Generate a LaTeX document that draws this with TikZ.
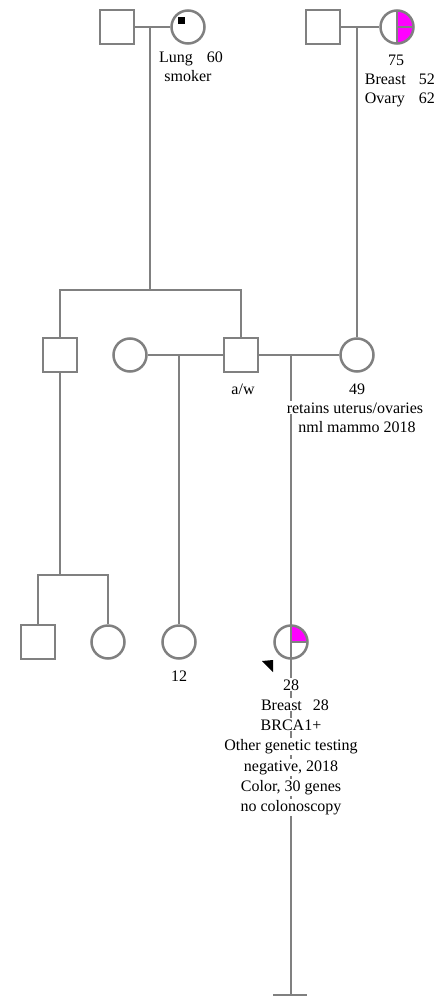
\documentclass[tikz,border=0pt]{standalone}
\usepackage{fontspec}
\setmainfont{Liberation Serif}
\definecolor{lineg}{RGB}{128,128,128}
\definecolor{affect}{RGB}{255,0,255}
\begin{document}
\begin{tikzpicture}[x=1pt,y=-1pt,line width=2.5pt,
  male/.style={draw=lineg,rectangle,minimum size=34pt,inner sep=0pt},
  female/.style={draw=lineg,circle,minimum size=33pt,inner sep=0pt},
  rel/.style={draw=lineg,line width=2.5pt},
  lbl/.style={font=\fontsize{16}{20}\selectfont,inner xsep=0.6pt,inner ysep=1.2pt,anchor=base},
  cover/.style={lbl,fill=white}]
\useasboundingbox (0,0) rectangle (440,1000);

% generation I
\node[male] (gf1) at (117,27) {};
\node[female,path picture={
    \fill[black] ([shift={(-10.5,-10)}]path picture bounding box.center)
      rectangle ([shift={(-3.5,-3)}]path picture bounding box.center);}]
  (gm1) at (188,27) {};
\node[male] (gf2) at (323,27) {};
\node[female,path picture={
    \fill[affect] (path picture bounding box.south) rectangle (path picture bounding box.north east);
    \draw[lineg] (path picture bounding box.north) -- (path picture bounding box.south);
    \draw[lineg] (path picture bounding box.center) -- (path picture bounding box.east);}]
  (gm2) at (397,27) {};

% generation II
\node[male] (u1) at (60,355) {};
\node[female] (w1) at (130,355) {};
\node[male] (fa) at (241,355) {};
\node[female] (mo) at (357,355) {};

% generation III
\node[male] (c1) at (38,642) {};
\node[female] (c2) at (108,642) {};
\node[female] (c3) at (179,642) {};
\node[female,path picture={
    \fill[affect] (path picture bounding box.center) rectangle (path picture bounding box.north east);
    \draw[lineg] (path picture bounding box.center) -- (path picture bounding box.east);
    \draw[lineg] (path picture bounding box.north) -- (path picture bounding box.south);}]
  (pb) at (291,642) {};

% couple and descent coordinates
\coordinate (d1top) at (150,27);
\coordinate (d1bot) at (150,290);
\coordinate (s1l) at (60,290);
\coordinate (s1r) at (241,290);
\coordinate (d2top) at (357,27);
\coordinate (d3top) at (179,355);
\coordinate (d4top) at (291,355);
\coordinate (d4bot) at (291,995);
\coordinate (barl) at (273,995);
\coordinate (barr) at (307,995);
\coordinate (s2m) at (60,575);
\coordinate (s2l) at (38,575);
\coordinate (s2r) at (108,575);

% relationship lines
\draw[rel] (gf1.east) -- (gm1.west);
\draw[rel] (d1top) -- (d1bot);
\draw[rel] (u1.north) -- (s1l) -- (s1r) -- (fa.north);
\draw[rel] (gf2.east) -- (gm2.west);
\draw[rel] (d2top) -- (mo.north);
\draw[rel] (w1.east) -- (fa.west);
\draw[rel] (d3top) -- (c3.north);
\draw[rel] (fa.east) -- (mo.west);
\draw[rel] (d4top) -- (d4bot);
\draw[rel] (barl) -- (barr);
\draw[rel] (u1.south) -- (s2m);
\draw[rel] (c1.north) -- (s2l) -- (s2r) -- (c2.north);

% proband arrow
\coordinate (ar1) at (262,661);
\coordinate (ar2) at (273,660);
\coordinate (ar3) at (273,672);
\fill[black] (ar1) -- (ar2) -- (ar3) -- cycle;

% labels
\node[lbl] (t1) at (191,63) {Lung\hspace{14pt}60};
\node[lbl] (t2) at (188,82) {smoker};
\node[lbl] (t3) at (396,66) {75};
\node[lbl,anchor=base west] (t4) at (363,85) {\makebox[54pt][l]{Breast}52};
\node[lbl,anchor=base west] (t5) at (363,104) {\makebox[54pt][l]{Ovary}62};
\node[lbl] (t6) at (243,394) {a/w};
\node[lbl] (t7) at (357,394) {49};
\node[cover] (t8) at (355,413) {retains uterus/ovaries};
\node[cover] (t9) at (357,432) {nml mammo 2018};
\node[lbl] (t10) at (179,681) {12};
\node[cover] (p1) at (291,690) {28};
\node[cover] (p2) at (295,710) {Breast\hspace{11pt}28};
\node[cover] (p3) at (291,730) {BRCA1+};
\node[cover] (p4) at (291,750) {Other genetic testing};
\node[cover] (p5) at (291,771) {negative, 2018};
\node[cover] (p6) at (291,791) {Color, 30 genes};
\node[cover] (p7) at (291,811) {no colonoscopy};
\end{tikzpicture}
\end{document}
